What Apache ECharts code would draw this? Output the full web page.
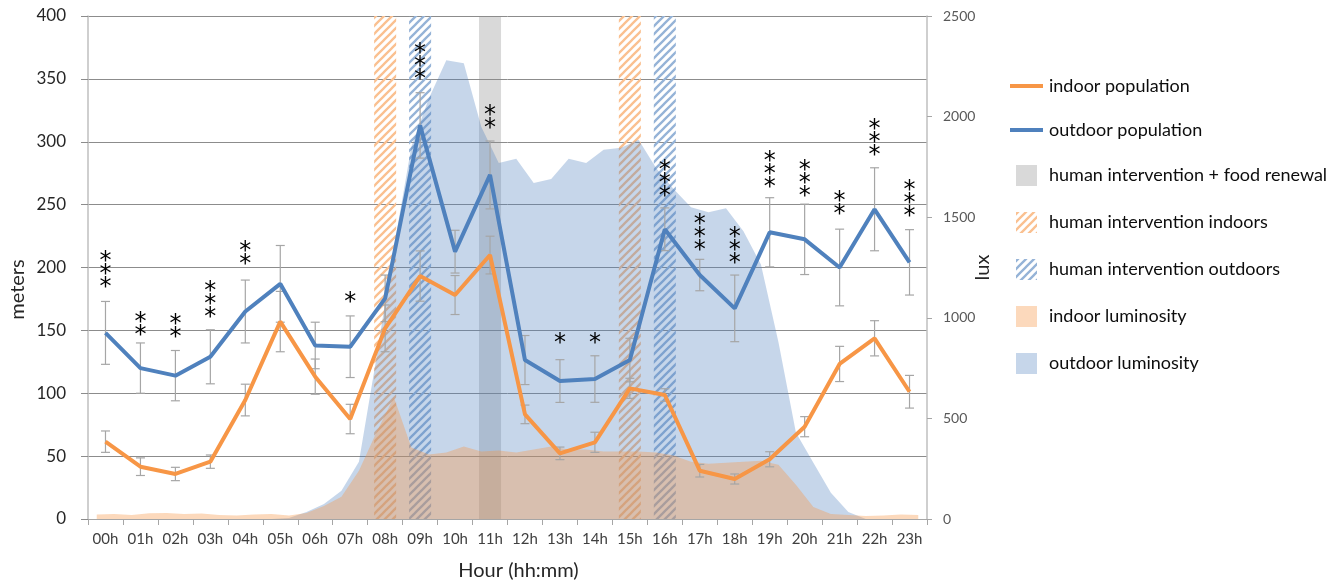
<!DOCTYPE html>
<html><head><meta charset="utf-8">
<script src="https://cdn.jsdelivr.net/npm/echarts@6/dist/echarts.min.js"></script>
<style>html,body{margin:0;padding:0;background:#fff}#c{width:1342px;height:586px}</style>
</head><body><div id="c"></div>
<script>
// ---- data ----
const hours = ['00h','01h','02h','03h','04h','05h','06h','07h','08h','09h','10h','11h','12h','13h','14h','15h','16h','17h','18h','19h','20h','21h','22h','23h'];
const indoorPop = [61.5,41.6,35.8,45.6,94.6,157,113.2,79.5,151.6,193.2,178.1,209.9,83.2,52.2,61,103.9,98.6,38.4,31.8,47.5,73.4,123.3,143.7,101.2];
const indoorErr = [8.5,7,5.3,5.3,12.6,24,14,11.7,18.6,20,15.5,15,7.4,5,8,8,5,5,4,6,8,14,14,13];
const outdoorPop = [148,120,114,129,165,187,138,137,175.5,313,212.6,273.6,126.4,109.7,111.3,126.4,230.4,194,167.5,228,222.4,200,246.3,204.1];
const outdoorErr = [25,20,20,21.5,25,30.5,18.5,24.5,18.5,26,17,27,19.5,17,18.5,17.3,17,12.5,26.5,27.5,28,30.5,33,26];
const significance = ['***','**','**','***','**','','','*','','***','','**','','*','*','','***','***','***','***','***','**','***','***'];
const starLevel = [188,150,148,164,206,0,0,176,0,353,0,314,0,143,143,0,260,217,207,267,260,246,293,244];
const foodRenewal = ['11h'];
const interventionIn = ['08h','15h'];
const interventionOut = ['09h','16h'];
const lumTime = [0.25,0.75,1.25,1.75,2.25,2.75,3.25,3.75,4.25,4.75,5.25,5.75,6.25,6.75,7.25,7.75,8.25,8.75,9.25,9.75,10.25,10.75,11.25,11.75,12.25,12.75,13.25,13.75,14.25,14.75,15.25,15.75,16.25,16.75,17.25,17.75,18.25,18.75,19.25,19.75,20.25,20.75,21.25,21.75,22.25,22.75,23.25,23.75];
const outdoorLux = [0,0,0,0,0,0,0,0,0,0, 0,5,35,75,140,285,800,1350,1850,2090, 2280,2265,1950,1770,1790,1670,1690,1790,1770,1835, 1845,1885,1745,1640,1550,1525,1545,1430,1265,880, 430,280,130,35,0,0,0,0];
const indoorLux = [22,25,20,28,30,25,27,20,18,22, 25,18,30,65,110,240,430,605,355,320, 330,360,335,340,330,345,360,345,345,335, 335,335,330,315,285,275,280,285,290,270, 170,60,25,20,15,18,22,20];

// ---- helpers ----
function hatch(color){
  const c=document.createElement('canvas'); c.width=8; c.height=8;
  const g=c.getContext('2d'); g.strokeStyle=color; g.lineWidth=2.3; g.lineCap='square';
  g.beginPath(); g.moveTo(0,8); g.lineTo(8,0); g.moveTo(-2,2); g.lineTo(2,-2); g.moveTo(6,10); g.lineTo(10,6); g.stroke();
  return {image:c, repeat:'repeat'};
}
const bandData = list => hours.map(h => list.indexOf(h) >= 0 ? 400 : null);
const FONT = 'Lato';
function errRender(params, api){
  const x=api.value(0), lo=api.value(1), hi=api.value(2);
  const a=api.coord([x,hi]), b=api.coord([x,lo]); const w=4.5;
  const st={stroke:'#a6a6a6', lineWidth:1.2};
  return {type:'group', children:[
    {type:'line', shape:{x1:a[0],y1:a[1],x2:b[0],y2:b[1]}, style:st},
    {type:'line', shape:{x1:a[0]-w,y1:a[1],x2:a[0]+w,y2:a[1]}, style:st},
    {type:'line', shape:{x1:b[0]-w,y1:b[1],x2:b[0]+w,y2:b[1]}, style:st}]};
}
function starRender(params, api){
  const x=api.value(0), lvl=api.value(1), n=api.value(2);
  const p=api.coord([x,lvl]); const ch=[];
  for(let i=0;i<n;i++) ch.push({type:'text', x:p[0], y:p[1]-i*13+5,
    style:{text:'*', fontSize:24, fontFamily:'DejaVu Sans', fill:'#000', align:'center', verticalAlign:'middle'}});
  return {type:'group', children:ch};
}
const errData = (v,e) => v.map((val,i)=>[i, val-e[i], val+e[i]]);
const starData = significance.map((s,i)=>[i, starLevel[i], s.length]).filter(d=>d[2]>0);
const SQ = 'path://M0,0H10V10H0Z';
const LN = 'path://M0,0H33V4H0Z';

const option = {
  animation:false,
  grid:{left:86, right:415, top:16, bottom:67},
  legend:{
    orient:'vertical', left:1005, top:72, itemWidth:33, itemHeight:21, itemGap:26,
    symbolKeepAspect:true,
    textStyle:{fontSize:18, fontFamily:FONT, color:'#0d0d0d', padding:[0,0,0,1]},
    itemStyle:{borderWidth:0},
    data:[
      {name:'indoor population', icon:LN},
      {name:'outdoor population', icon:LN},
      {name:'human intervention + food renewal', icon:SQ},
      {name:'human intervention indoors', icon:SQ},
      {name:'human intervention outdoors', icon:SQ},
      {name:'indoor luminosity', icon:SQ},
      {name:'outdoor luminosity', icon:SQ}
    ]
  },
  xAxis:[
    {type:'category', data:hours, boundaryGap:true,
     axisLine:{lineStyle:{color:'#a6a6a6', width:1}},
     axisTick:{show:true, length:6, lineStyle:{color:'#a6a6a6'}},
     axisLabel:{fontSize:15, fontFamily:FONT, color:'#404040', margin:13},
     name:'Hour (hh:mm)', nameLocation:'middle', nameGap:42, nameMoveOverlap:false,
     nameTextStyle:{fontSize:20, fontFamily:FONT, color:'#262626', padding:[0,0,0,22]}},
    {type:'value', min:0, max:24, show:false}
  ],
  yAxis:[
    {type:'value', min:0, max:400, interval:50,
     axisLine:{show:true, lineStyle:{color:'#bfbfbf', width:1.5}},
     axisTick:{show:true, length:7, lineStyle:{color:'#8c8c8c'}},
     splitLine:{lineStyle:{color:'#8c8c8c', width:1}},
     axisLabel:{fontSize:17, fontFamily:FONT, color:'#262626', margin:22},
     name:'meters', nameLocation:'middle', nameGap:60, nameMoveOverlap:false,
     nameTextStyle:{fontSize:20, fontFamily:FONT, color:'#262626', padding:[0,44,0,0]}},
    {type:'value', min:0, max:2500, interval:500, position:'right',
     axisLine:{show:true, lineStyle:{color:'#bfbfbf', width:1.5}},
     axisTick:{show:true, length:5, lineStyle:{color:'#a6a6a6'}},
     splitLine:{show:false},
     axisLabel:{fontSize:14, fontFamily:FONT, color:'#595959', margin:16, formatter:v=>String(v)},
     name:'lux', nameLocation:'middle', nameGap:46, nameMoveOverlap:false,
     nameTextStyle:{fontSize:20, fontFamily:FONT, color:'#262626'}}
  ],
  series:[
    {name:'human intervention + food renewal', type:'bar', data:bandData(foodRenewal), barWidth:'63%', barGap:'-100%', z:1,
     itemStyle:{color:'rgba(140,140,140,0.33)'}, silent:true},
    {name:'human intervention indoors', type:'bar', data:bandData(interventionIn), barWidth:'63%', barGap:'-100%', z:1,
     itemStyle:{color:hatch('#fac090')}, silent:true},
    {name:'human intervention outdoors', type:'bar', data:bandData(interventionOut), barWidth:'63%', barGap:'-100%', z:1,
     itemStyle:{color:hatch('#95b3d7')}, silent:true},
    {name:'outdoor luminosity', type:'line', xAxisIndex:1, yAxisIndex:1, z:2, symbol:'none',
     data:lumTime.map((t,i)=>[t,outdoorLux[i]]),
     itemStyle:{color:'rgba(79,129,189,0.32)'}, lineStyle:{width:0}, areaStyle:{color:'rgba(79,129,189,0.32)', opacity:1}},
    {name:'indoor luminosity', type:'line', xAxisIndex:1, yAxisIndex:1, z:2, symbol:'none',
     data:lumTime.map((t,i)=>[t,indoorLux[i]]),
     itemStyle:{color:'rgba(247,150,70,0.36)'}, lineStyle:{width:0}, areaStyle:{color:'rgba(247,150,70,0.36)', opacity:1}},
    {name:'indoorErr', type:'custom', renderItem:errRender, data:errData(indoorPop,indoorErr), z:3, silent:true},
    {name:'outdoorErr', type:'custom', renderItem:errRender, data:errData(outdoorPop,outdoorErr), z:3, silent:true},
    {name:'indoor population', type:'line', data:indoorPop, symbol:'none', z:4,
     itemStyle:{color:'#f79646'}, lineStyle:{width:4, color:'#f79646'}},
    {name:'outdoor population', type:'line', data:outdoorPop, symbol:'none', z:4,
     itemStyle:{color:'#4f81bd'}, lineStyle:{width:4, color:'#4f81bd'}},
    {name:'stars', type:'custom', renderItem:starRender, data:starData, z:5, silent:true}
  ]
};
echarts.init(document.getElementById('c')).setOption(option);
</script></body></html>
